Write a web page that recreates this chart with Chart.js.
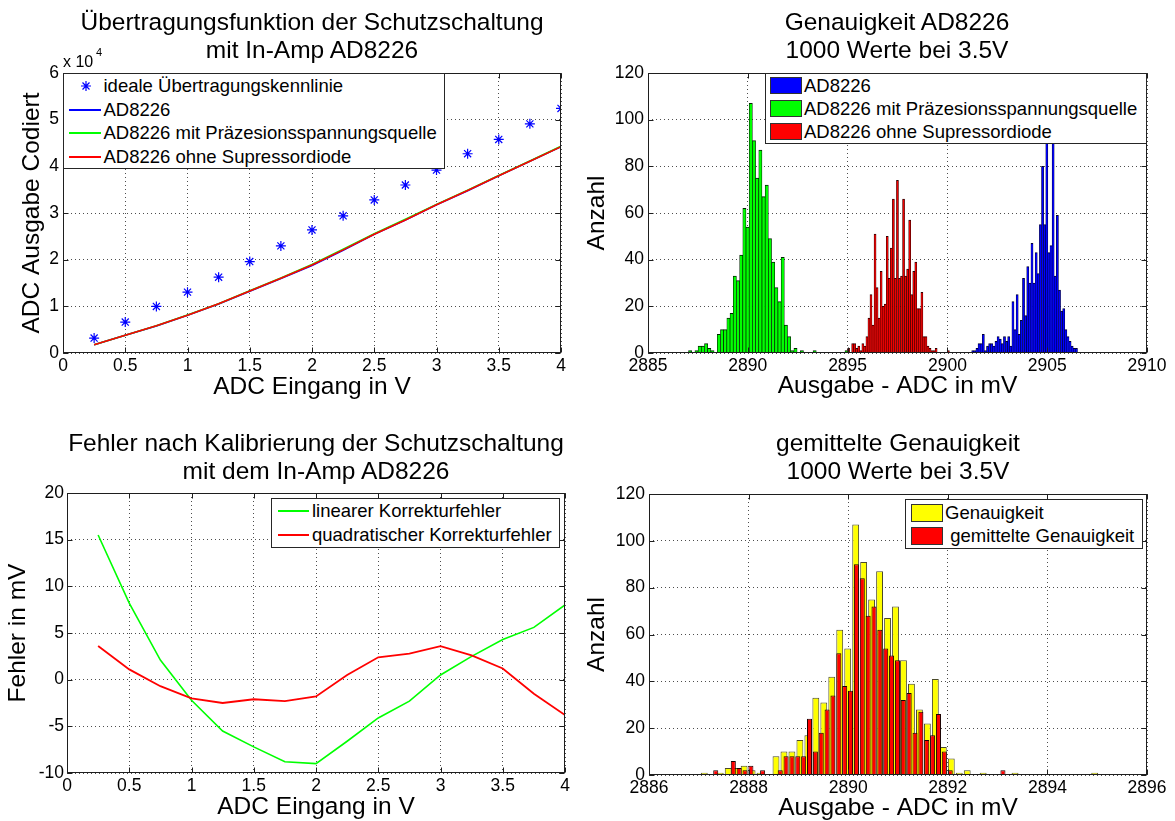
<!DOCTYPE html>
<html lang="de">
<head>
<meta charset="utf-8">
<title>AD8226 Schutzschaltung</title>
<script src="https://cdn.jsdelivr.net/npm/chart.js@4.4.1/dist/chart.umd.min.js"></script>
<style>
html,body{margin:0;padding:0;background:#fff;}
body{position:relative;width:1175px;height:821px;overflow:hidden;font-family:"Liberation Sans",Arial,Helvetica,sans-serif;color:#000;}
canvas{position:absolute;}
.ttl{position:absolute;transform:translateX(-50%);text-align:center;white-space:nowrap;font-size:24.5px;line-height:27.5px;}
.lgbox{position:absolute;box-sizing:border-box;border:1px solid #262626;background:#fff;}
.lgtxt{position:absolute;font-size:18.5px;line-height:24px;height:24px;white-space:pre;}
.lgline{position:absolute;height:2px;}
.lgpatch{position:absolute;box-sizing:border-box;border:1px solid #333;}
.exp{position:absolute;white-space:nowrap;}
</style>
</head>
<body>
<canvas id="cTL" width="590" height="410" style="left:0;top:0"></canvas>
<canvas id="cTR" width="600" height="410" style="left:575px;top:0"></canvas>
<canvas id="cBL" width="590" height="415" style="left:0;top:410px"></canvas>
<canvas id="cBR" width="600" height="415" style="left:575px;top:410px"></canvas>

<div class="ttl" style="left:312px;top:8px">Übertragungsfunktion der Schutzschaltung<br>mit In-Amp AD8226</div>
<div class="ttl" style="left:897px;top:8px">Genauigkeit AD8226<br>1000 Werte bei 3.5V</div>
<div class="ttl" style="left:316px;top:429px">Fehler nach Kalibrierung der Schutzschaltung<br>mit dem In-Amp AD8226</div>
<div class="ttl" style="left:898px;top:429px">gemittelte Genauigkeit<br>1000 Werte bei 3.5V</div>

<div class="exp" style="left:63px;top:52px;font-size:16px;line-height:20px">x 10</div>
<div class="exp" style="left:96px;top:45px;font-size:11px;line-height:14px">4</div>

<script>
// ---------------- DATA ----------------
// Panel 1: Übertragungsfunktion
const voltsIn = [0.25, 0.5, 0.75, 1, 1.25, 1.5, 1.75, 2, 2.25, 2.5, 2.75, 3, 3.25, 3.5, 3.75, 4];
const idealCodes = [3200, 6630, 9980, 13040, 16250, 19600, 22950, 26370, 29400, 32800, 36000, 39200, 42700, 45760, 49100, 52400];
const ad8226Codes = [1750, 3800, 5800, 8100, 10500, 13250, 15950, 18750, 22000, 25450, 28500, 31750, 34750, 38000, 41100, 44200];
const ad8226RefCodes = [1750, 3800, 5850, 8150, 10550, 13350, 16050, 18950, 22250, 25550, 28650, 31850, 34900, 38050, 41150, 44300];
const ad8226NoDiodeCodes = [1750, 3800, 5850, 8100, 10550, 13300, 16000, 18850, 22100, 25450, 28500, 31750, 34800, 38000, 41100, 44200];
const tlXTicks = [0, 0.5, 1, 1.5, 2, 2.5, 3, 3.5, 4];
const tlYTicks = [0, 10000, 20000, 30000, 40000, 50000, 60000];

// Panel 2: Genauigkeit AD8226 (histograms, 50 bins each)
const greenBinStart = 2887.11, greenBinWidth = 0.16;
const greenCounts = [1,0,1,3,3,4,2,1,0,8, 10,10,15,17,33,31,42,62,54,107, 91,75,87,67,72,49,39,28,22,41, 12,7,1,2,0,1,0,0,0,1, 0,0,0,0,0,0,0,0,0,1];
const redBinStart = 2895.05, redBinWidth = 0.102;
const redCounts = [2,0,4,4,2,3,1,4,3,7, 15,25,12,51,28,15,35,20,21,50, 32,45,66,32,74,32,33,66,33,36, 57,25,35,39,19,19,26,7,7,3, 2,1,1,2,0,0,0,0,0,1];
const blueBinStart = 2901.27, blueBinWidth = 0.106;
const blueCounts = [1,1,2,4,4,8,1,3,4,4, 3,5,7,6,4,7,5,7,3,22, 10,25,8,14,32,16,37,30,47,30, 43,34,55,80,55,91,43,46,90,33, 59,27,18,19,10,7,5,3,2,2];
const trXTicks = [2885, 2890, 2895, 2900, 2905, 2910];
const countTicks = [0, 20, 40, 60, 80, 100, 120];

// Panel 3: Fehler nach Kalibrierung
const linErr = [15.5, 8.2, 2.1, -2.2, -5.5, -7.2, -8.8, -9.0, -6.6, -4.1, -2.3, 0.5, 2.5, 4.3, 5.6, 8.0];
const quadErr = [3.6, 1.1, -0.7, -2.0, -2.5, -2.1, -2.3, -1.8, 0.5, 2.4, 2.8, 3.6, 2.6, 1.2, -1.5, -3.8];
const blYTicks = [-10, -5, 0, 5, 10, 15, 20];

// Panel 4: gemittelte Genauigkeit
const avgBinStart = 2887.34, avgBinWidth = 0.1177;
const avgCounts = [2,0,0,6,3,2,4,0,2,0, 0,2,8,8,8,8,24,10,18,28, 34,52,38,36,90,84,68,72,62,54, 51,49,32,35,18,27,15,17,26,10, 2,0,0,0,0,0,0,0,0,2];
const brXTicks = [2886, 2888, 2890, 2892, 2894, 2896];

// ---------------- HELPERS ----------------
const FONT = '"Liberation Sans", Arial, Helvetica, sans-serif';
Chart.defaults.font.family = FONT;
Chart.defaults.color = '#000';

function pts(xs, ys) { return xs.map((x, i) => ({ x: x, y: ys[i] })); }
function histPoints(start, width, counts) {
  // bin centres of the histogram; empty bins are not drawn
  return counts.map((c, i) => ({ x: +(start + i * width).toFixed(4), y: c })).filter(p => p.y > 0);
}

const boxPlugin = {
  id: 'matlabBox',
  afterDatasetsDraw(chart) {
    const { ctx, chartArea: a, scales } = chart;
    ctx.save();
    ctx.strokeStyle = '#1e1e1e';
    ctx.lineWidth = 1;
    const L = Math.round(a.left) + 0.5, T = Math.round(a.top) + 0.5;
    const R = Math.round(a.right) - 0.5, B = Math.round(a.bottom) - 0.5;
    ctx.strokeRect(L, T, R - L, B - T);
    const len = 5;
    ctx.beginPath();
    scales.x.ticks.forEach(t => {
      const px = Math.round(scales.x.getPixelForValue(t.value)) + 0.5;
      ctx.moveTo(px, B); ctx.lineTo(px, B - len);
      ctx.moveTo(px, T); ctx.lineTo(px, T + len);
    });
    scales.y.ticks.forEach(t => {
      const py = Math.round(scales.y.getPixelForValue(t.value)) + 0.5;
      ctx.moveTo(L, py); ctx.lineTo(L + len, py);
      ctx.moveTo(R, py); ctx.lineTo(R - len, py);
    });
    ctx.stroke();
    ctx.restore();
  }
};

function axisTitle(text) {
  return { display: true, text: text, font: { size: 24.5 }, color: '#000', padding: { top: 0, bottom: 0 } };
}

function baseOptions(cfg) {
  const gridCommon = { color: '#4d4d4d', lineWidth: 1, drawTicks: false, offset: false };
  const scales = {
    x: {
      type: 'linear', min: cfg.xTicks[0], max: cfg.xTicks[cfg.xTicks.length - 1], offset: false,
      afterBuildTicks: s => { s.ticks = cfg.xTicks.map(v => ({ value: v })); },
      ticks: { padding: 3, font: { size: 17.5 }, color: '#000', maxRotation: 0, autoSkip: false,
               callback: v => String(v) },
      grid: gridCommon,
      border: { display: false, dash: [1, 3] },
      title: axisTitle(cfg.xTitle),
      afterFit: s => { s.height = cfg.xH; }
    },
    y: {
      type: 'linear', min: cfg.yTicks[0], max: cfg.yTicks[cfg.yTicks.length - 1],
      afterBuildTicks: s => { s.ticks = cfg.yTicks.map(v => ({ value: v })); },
      ticks: { padding: cfg.yPad, font: { size: 17.5 }, color: '#000', autoSkip: false,
               callback: cfg.yLabel || (v => String(v)) },
      grid: gridCommon,
      border: { display: false, dash: [1, 3] },
      title: axisTitle(cfg.yTitle),
      afterFit: s => { s.width = cfg.yW; }
    }
  };
  (cfg.extraX || []).forEach(id => {
    scales[id] = { type: 'linear', display: false, offset: false,
                   min: cfg.xTicks[0], max: cfg.xTicks[cfg.xTicks.length - 1],
                   grid: { offset: false } };
  });
  return {
    responsive: false, animation: false, events: [],
    layout: { autoPadding: false, padding: cfg.pad },
    plugins: { legend: { display: false }, title: { display: false }, tooltip: { enabled: false } },
    scales: scales
  };
}

function histDataset(label, start, width, counts, fill, edge, axisId, pct, bw, order) {
  return {
    type: 'bar', label: label, data: histPoints(start, width, counts),
    xAxisID: axisId, yAxisID: 'y',
    backgroundColor: fill, borderColor: edge, borderWidth: bw,
    borderSkipped: 'bottom', grouped: false,
    barPercentage: pct, categoryPercentage: 1, order: order
  };
}

// ---------------- CHART 1 ----------------
new Chart(document.getElementById('cTL'), {
  type: 'line',
  data: {
    datasets: [
      { label: 'ideale Übertragungskennlinie', data: pts(voltsIn, idealCodes), showLine: false,
        pointStyle: 'star', pointRadius: 5, pointBorderWidth: 1.2,
        pointBorderColor: '#0000ff', pointBackgroundColor: '#0000ff', borderColor: '#0000ff', order: 0 },
      { label: 'AD8226', data: pts(voltsIn, ad8226Codes), borderColor: '#0000ff', borderWidth: 1.6,
        pointRadius: 0, tension: 0, fill: false, order: 3 },
      { label: 'AD8226 mit Präzesionsspannungsquelle', data: pts(voltsIn, ad8226RefCodes), borderColor: '#00ff00',
        borderWidth: 1.6, pointRadius: 0, tension: 0, fill: false, order: 2 },
      { label: 'AD8226 ohne Supressordiode', data: pts(voltsIn, ad8226NoDiodeCodes), borderColor: '#ff0000',
        borderWidth: 1.6, pointRadius: 0, tension: 0, fill: false, order: 1 }
    ]
  },
  options: baseOptions({
    xTicks: tlXTicks, yTicks: tlYTicks, xTitle: 'ADC Eingang in V', yTitle: 'ADC Ausgabe Codiert',
    yLabel: v => String(v / 10000), yPad: 4, yW: 45, xH: 49,
    pad: { left: 18, top: 73, right: 29, bottom: 8 }
  }),
  plugins: [boxPlugin]
});

// ---------------- CHART 2 ----------------
new Chart(document.getElementById('cTR'), {
  type: 'bar',
  data: {
    datasets: [
      histDataset('AD8226', blueBinStart, blueBinWidth, blueCounts, '#0000ff', '#000033', 'x3', 1,
                  { left: 0.6, right: 0.6, top: 1, bottom: 0 }, 2),
      histDataset('AD8226 mit Präzesionsspannungsquelle', greenBinStart, greenBinWidth, greenCounts, '#00ff00', '#002200', 'x', 1,
                  { left: 0.7, right: 0.7, top: 1, bottom: 0 }, 1),
      histDataset('AD8226 ohne Supressordiode', redBinStart, redBinWidth, redCounts, '#ee0000', '#300000', 'x2', 1,
                  { left: 0.6, right: 0.6, top: 1, bottom: 0 }, 0)
    ]
  },
  options: baseOptions({
    xTicks: trXTicks, yTicks: countTicks, xTitle: 'Ausgabe - ADC in mV', yTitle: 'Anzahl',
    yPad: 4, yW: 65, xH: 48, extraX: ['x2', 'x3'],
    pad: { left: 8, top: 73, right: 28, bottom: 9 }
  }),
  plugins: [boxPlugin]
});

// ---------------- CHART 3 ----------------
new Chart(document.getElementById('cBL'), {
  type: 'line',
  data: {
    datasets: [
      { label: 'linearer Korrekturfehler', data: pts(voltsIn, linErr), borderColor: '#00ff00', borderWidth: 1.6,
        pointRadius: 0, tension: 0, fill: false, order: 1 },
      { label: 'quadratischer Korrekturfehler', data: pts(voltsIn, quadErr), borderColor: '#ff0000', borderWidth: 1.8,
        pointRadius: 0, tension: 0, fill: false, order: 0 }
    ]
  },
  options: baseOptions({
    xTicks: tlXTicks, yTicks: blYTicks, xTitle: 'ADC Eingang in V', yTitle: 'Fehler in mV',
    yPad: 3, yW: 63, xH: 49,
    pad: { left: 4, top: 83, right: 25, bottom: 3 }
  }),
  plugins: [boxPlugin]
});

// ---------------- CHART 4 ----------------
new Chart(document.getElementById('cBR'), {
  type: 'bar',
  data: {
    datasets: [
      histDataset('Genauigkeit', greenBinStart, greenBinWidth, greenCounts, '#ffff00', '#4a4a2a', 'x', 0.86, 1, 1),
      histDataset(' gemittelte Genauigkeit', avgBinStart, avgBinWidth, avgCounts, '#ff0000', '#1a0000', 'x2', 0.86, 1, 0)
    ]
  },
  options: baseOptions({
    xTicks: brXTicks, yTicks: countTicks, xTitle: 'Ausgabe - ADC in mV', yTitle: 'Anzahl',
    yPad: 4, yW: 66, xH: 48, extraX: ['x2'],
    pad: { left: 8, top: 84, right: 28, bottom: 2 }
  }),
  plugins: [boxPlugin]
});

// ---------------- LEGENDS (HTML overlays) ----------------
function el(cls, style, text) {
  const d = document.createElement('div');
  d.className = cls;
  Object.assign(d.style, style);
  if (text !== undefined) d.textContent = text;
  document.body.appendChild(d);
  return d;
}
function px(v) { return v + 'px'; }
function legendBox(l, t, w, h) { el('lgbox', { left: px(l), top: px(t), width: px(w), height: px(h) }); }
function legendLine(x1, x2, cy, color) { el('lgline', { left: px(x1), top: px(cy - 1), width: px(x2 - x1), background: color }); }
function legendPatch(x1, x2, top, h, color) { el('lgpatch', { left: px(x1), top: px(top), width: px(x2 - x1), height: px(h), background: color }); }
function legendText(x, cy, text) { el('lgtxt', { left: px(x), top: px(cy - 12) }, text); }
function legendStar(cx, cy, color) {
  const ns = 'http://www.w3.org/2000/svg';
  const s = document.createElementNS(ns, 'svg');
  s.setAttribute('width', '12'); s.setAttribute('height', '12');
  s.style.position = 'absolute'; s.style.left = px(cx - 6); s.style.top = px(cy - 6);
  const p = document.createElementNS(ns, 'path');
  p.setAttribute('d', 'M6 1V11M1 6H11M2.5 2.5L9.5 9.5M9.5 2.5L2.5 9.5');
  p.setAttribute('stroke', color); p.setAttribute('stroke-width', '1.2'); p.setAttribute('fill', 'none');
  s.appendChild(p);
  document.body.appendChild(s);
}

// Legend panel 1
legendBox(63, 73, 382, 96);
legendStar(86, 86, '#0000ff');
legendText(103.5, 86, 'ideale Übertragungskennlinie');
legendLine(69, 101, 109.5, '#0000ff');
legendText(103.5, 109.5, 'AD8226');
legendLine(69, 101, 133, '#00ff00');
legendText(103.5, 133, 'AD8226 mit Präzesionsspannungsquelle');
legendLine(69, 101, 156.5, '#ff0000');
legendText(103.5, 156.5, 'AD8226 ohne Supressordiode');

// Legend panel 2
legendBox(765, 73, 382, 71);
legendPatch(770, 802, 77, 17, '#0000ff');
legendText(804, 85.5, 'AD8226');
legendPatch(770, 802, 100, 17, '#00ff00');
legendText(804, 108.5, 'AD8226 mit Präzesionsspannungsquelle');
legendPatch(770, 802, 123, 17, '#ff0000');
legendText(804, 131.5, 'AD8226 ohne Supressordiode');

// Legend panel 3
legendBox(271, 498, 289, 50);
legendLine(278, 309, 511, '#00ff00');
legendText(312, 511, 'linearer Korrekturfehler');
legendLine(278, 309, 535, '#ff0000');
legendText(312, 535, 'quadratischer Korrekturfehler');

// Legend panel 4
legendBox(905, 499, 238, 50);
legendPatch(911, 943, 504, 18, '#ffff00');
legendText(945, 513, 'Genauigkeit');
legendPatch(911, 943, 527, 18, '#ff0000');
legendText(945, 536, ' gemittelte Genauigkeit');
</script>
</body>
</html>
